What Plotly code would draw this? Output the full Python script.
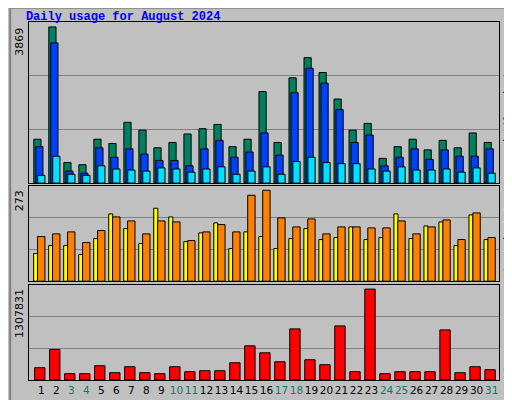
import plotly.graph_objects as go

days = list(range(1, 32))
hits = [1087, 3869, 508, 455, 1087, 981, 1506, 1313, 875, 1007, 1217, 1348, 1453, 902, 1087, 2267, 1007, 2608, 3107, 2740, 2083, 1313, 1479, 613, 902, 1087, 823, 1059, 875, 1243, 1007]
files = [902, 3474, 298, 245, 875, 639, 849, 718, 561, 561, 429, 849, 1059, 639, 770, 1243, 692, 2241, 2845, 2477, 1821, 1007, 1191, 429, 639, 849, 587, 823, 665, 665, 849]
pages = [193, 665, 219, 193, 429, 350, 324, 298, 376, 350, 271, 350, 403, 219, 298, 403, 219, 534, 639, 508, 481, 481, 350, 298, 403, 324, 324, 350, 271, 376, 245]
sites = [83, 107, 107, 80, 128, 202, 158, 113, 219, 193, 119, 145, 175, 98, 148, 134, 98, 128, 158, 125, 131, 163, 125, 131, 202, 128, 166, 178, 107, 199, 125]
visits = [134, 142, 148, 116, 152, 193, 181, 142, 181, 178, 122, 148, 170, 148, 258, 273, 190, 163, 187, 142, 163, 163, 160, 160, 181, 142, 163, 184, 125, 205, 131]
kbytes = [176600, 439100, 90700, 90700, 205300, 105000, 190900, 105000, 90700, 190900, 119300, 133600, 133600, 248200, 491600, 391400, 262500, 735300, 291100, 219600, 778300, 119300, 1307831, 90700, 119300, 119300, 119300, 720900, 105000, 190900, 148000]
weekend = {3, 4, 10, 11, 17, 18, 24, 25, 31}

line = dict(color="black", width=1)
fig = go.Figure()
fig.add_bar(x=days, y=hits, marker=dict(color="#008060", line=line), width=0.48, offset=-0.5, xaxis="x", yaxis="y")
fig.add_bar(x=days, y=files, marker=dict(color="#0040FF", line=line), width=0.48, offset=-0.37, xaxis="x", yaxis="y")
fig.add_bar(x=days, y=pages, marker=dict(color="#00E0FF", line=line), width=0.48, offset=-0.24, xaxis="x", yaxis="y")
fig.add_bar(x=days, y=sites, marker=dict(color="#FFFF00", line=line), width=0.27, offset=-0.51, xaxis="x2", yaxis="y2")
fig.add_bar(x=days, y=visits, marker=dict(color="#FF8000", line=line), width=0.49, offset=-0.25, xaxis="x2", yaxis="y2")
fig.add_bar(x=days, y=kbytes, marker=dict(color="#FF0000", line=line), width=0.69, offset=-0.45, xaxis="x3", yaxis="y3")

xr = [0.18, 31.49]
xcommon = dict(range=xr, showgrid=False, zeroline=False, showline=True, linecolor="black", mirror=True, linewidth=1)
ticktext = [f"<span style='color:{'#008060' if d in weekend else 'black'}'>{d}</span>" for d in days]

def yax(dom, top):
    return dict(domain=dom, range=[0, top], tickvals=[top / 3, 2 * top / 3], showticklabels=False,
                gridcolor="#808080", gridwidth=1, zeroline=False, showline=True, linecolor="black", mirror=True, linewidth=1)

fig.update_layout(
    width=512, height=400, barmode="overlay", showlegend=False,
    paper_bgcolor="#C0C0C0", plot_bgcolor="#C0C0C0",
    margin=dict(l=21, r=21, t=14, b=24),
    font=dict(family="DejaVu Sans", size=11, color="black"),
    xaxis=dict(**xcommon, anchor="y", showticklabels=False),
    xaxis2=dict(**xcommon, anchor="y2", showticklabels=False, matches="x"),
    xaxis3=dict(**xcommon, anchor="y3", tickvals=days, ticktext=ticktext, ticks="", tickangle=0,
                tickfont=dict(size=10.5)),
    yaxis=yax([0.550, 1], 3869 * 456 / 442),
    yaxis2=yax([0.276, 0.541], 273 * 288 / 276),
    yaxis3=yax([0, 0.265], 1307831 * 286 / 274),
    title=dict(text="<b>Daily usage for August 2024</b>", x=0.035, xanchor="left", y=0.99, yanchor="top",
               font=dict(family="Liberation Mono", size=12, color="#0000FF")),
)

anns = [
    (str(max(hits)), "y"),
    (str(max(visits)), "y2"),
    (str(max(kbytes)), "y3"),
]
for txt, ya in anns:
    fig.add_annotation(text=txt, textangle=-90, xref="paper", x=0, xanchor="right", xshift=-1,
                       yref=f"{ya} domain", y=0.98, yanchor="top", showarrow=False, font=dict(size=11))

right = [
    ("<span style='color:#00E0FF'>Pages</span> / <span style='color:#0040FF'>Files</span> / <span style='color:#008060'>Hits</span>", "y"),
    ("<span style='color:#FF8000'>Sites</span> / <span style='color:#FFFF00'>Visits</span>", "y2"),
    ("<span style='color:#FF0000'>KBytes</span>", "y3"),
]
for txt, ya in right:
    fig.add_annotation(text=txt, textangle=-90, xref="paper", x=1.003, xanchor="left",
                       yref=f"{ya} domain", y=0, yanchor="bottom", showarrow=False,
                       font=dict(family="Liberation Mono", size=10))

fig.add_shape(type="rect", xref="paper", yref="paper", x0=-0.04, x1=1.04, y0=-0.065, y1=1.04,
              line=dict(color="#808080", width=2), layer="below")

fig.write_html("out.html")
